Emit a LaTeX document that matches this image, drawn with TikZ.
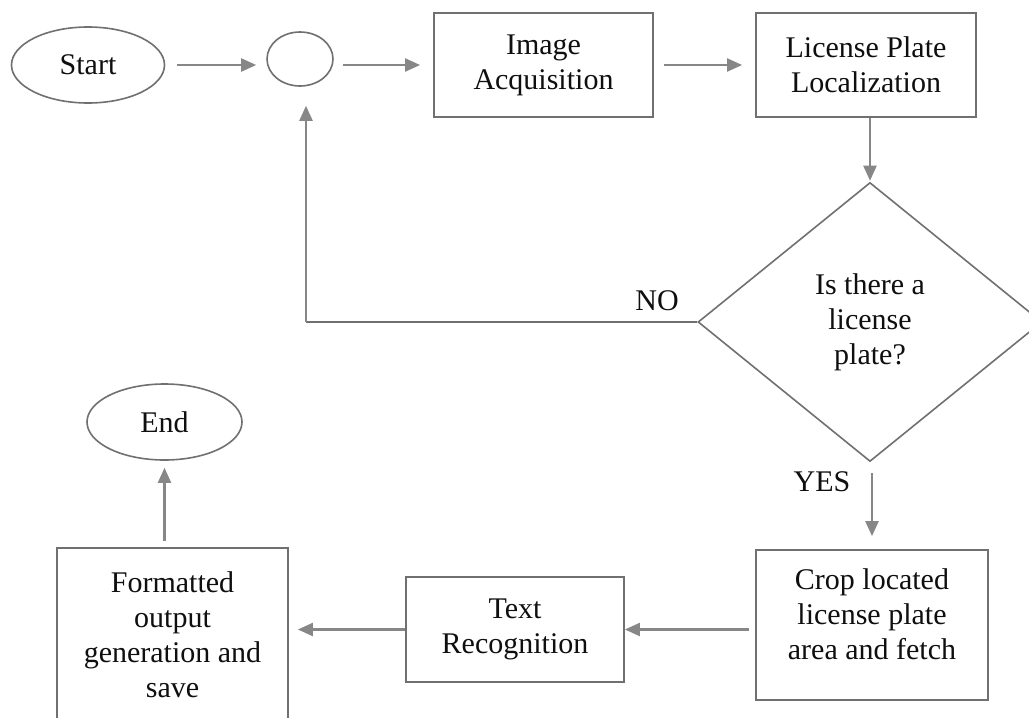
\documentclass[tikz,border=0pt]{standalone}
\usepackage{fontspec}
\setmainfont{Liberation Serif}
\usetikzlibrary{shapes.geometric,arrows.meta}
\definecolor{linegray}{RGB}{112,112,112}
\definecolor{arrowgray}{RGB}{135,135,135}
\definecolor{inkblack}{RGB}{15,15,15}
\begin{document}
\begin{tikzpicture}[x=1pt,y=-1pt,
  txt/.style={text=inkblack,font=\fontsize{30}{35}\selectfont,align=center,inner sep=0pt},
  box/.style={txt,draw=linegray,line width=1.8pt,rectangle},
  oval/.style={txt,draw=linegray,line width=1.6pt,ellipse},
  decision/.style={txt,draw=linegray,line width=1.6pt,diamond},
  arr/.style={draw=arrowgray,line width=2.2pt,-{Triangle[length=15pt,width=13pt]}},
  link/.style={draw=linegray,line width=1.8pt}]
\useasboundingbox (0,0) rectangle (1029,718);
\fill[white] (0,0) rectangle (1029,718);

\node[oval,minimum width=153pt,minimum height=76pt] (start) at (88,65) {Start};
\node[oval,minimum width=66pt,minimum height=54pt] (loop) at (300,59) {};
\node[box,minimum width=219pt,minimum height=104pt] (ia) at (543.5,65) {Image\\Acquisition};
\node[box,minimum width=220pt,minimum height=104pt] (lpl) at (866,65) {License Plate\\Localization};
\node[decision,minimum width=344pt,minimum height=279pt] (dec) at (870,322) {Is there a\\license\\plate?};
\node[box,minimum width=232pt,minimum height=150pt] (crop) at (872,625) {Crop located\\license plate\\area and fetch\\[-14pt]\mbox{}};
\node[box,minimum width=218pt,minimum height=105pt] (tr) at (515,629.5) {Text\\Recognition};
\node[box,minimum width=231pt,minimum height=174pt] (fo) at (172.5,635) {Formatted\\output\\generation and\\save};
\node[oval,minimum width=155pt,minimum height=76pt] (end) at (164.5,422) {End};

\node[txt] (no) at (657,301) {NO};
\node[txt] (yes) at (822,482) {YES};

\draw[arr,shorten <=12pt,shorten >=10pt] (start.east) -- (start.east -| loop.west);
\draw[arr,shorten <=9pt,shorten >=13pt] (loop.east |- ia.west) -- (ia.west);
\draw[arr,shorten <=10pt,shorten >=13pt] (ia.east) -- (lpl.west);
\draw[arr,shorten >=1pt] (lpl.south -| dec.north) -- (dec.north);
\draw[link] (dec.west) -- ([xshift=6pt]dec.west -| loop.south);
\draw[arr,shorten >=19pt] ([xshift=6pt]dec.west -| loop.south) -- ([xshift=6pt]loop.south);
\draw[arr,shorten <=11pt,shorten >=13pt] ([xshift=2pt]dec.south) -- ([xshift=2pt]dec.south |- crop.north);
\draw[arr,shorten <=6pt] (crop.west |- tr.east) -- (tr.east);
\draw[arr,shorten >=9pt] (tr.west) -- (tr.west -| fo.east);
\draw[arr,shorten <=6pt,shorten >=7pt] (end.south |- fo.north) -- (end.south);
\end{tikzpicture}
\end{document}
